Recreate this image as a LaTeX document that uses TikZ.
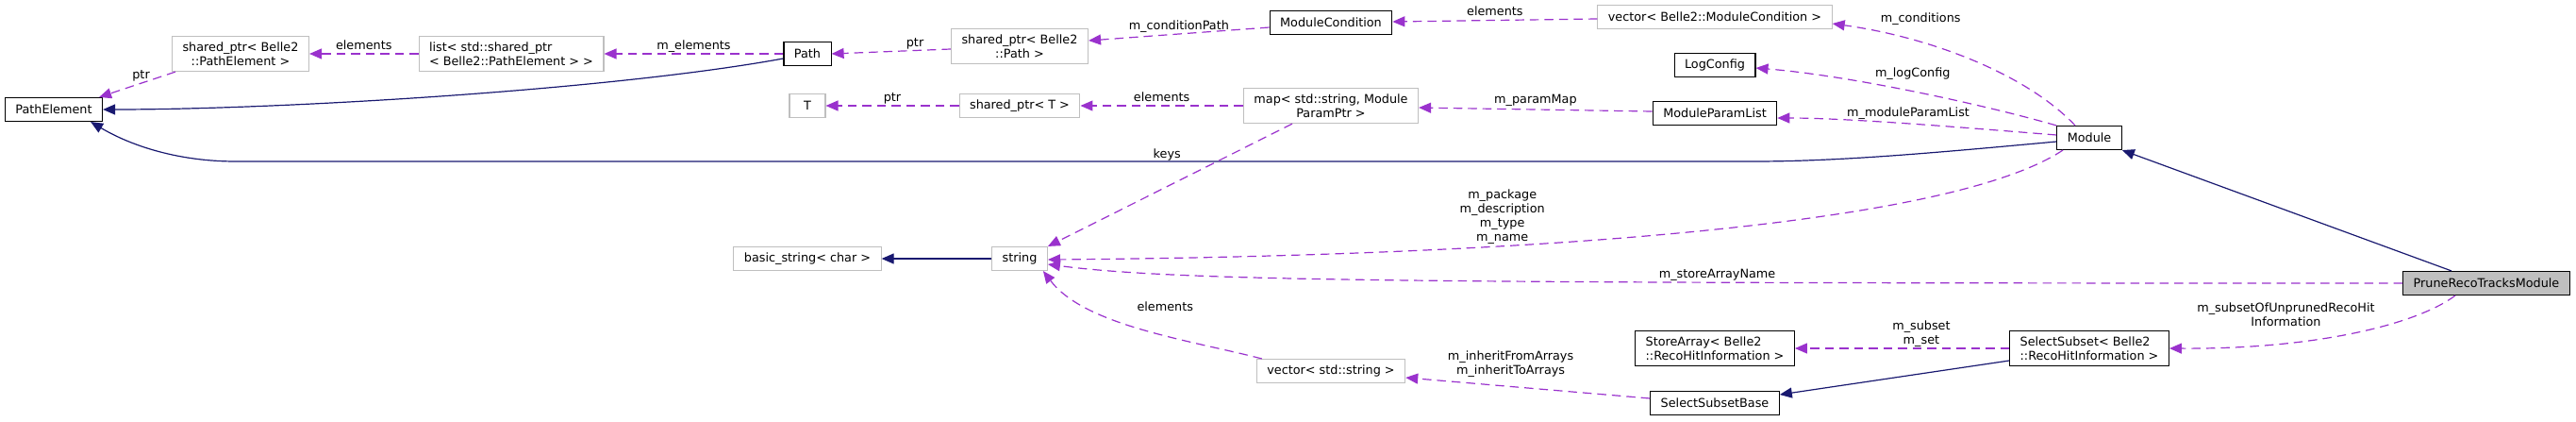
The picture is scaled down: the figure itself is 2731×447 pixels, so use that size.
\documentclass[tikz,border=0pt]{standalone}
\usepackage{fontspec}
\setmainfont{DejaVu Sans}
\usetikzlibrary{arrows.meta}
\definecolor{orchid}{HTML}{9A32CD}
\definecolor{navy}{HTML}{191970}
\definecolor{grey75}{HTML}{BFBFBF}
\newcommand{\dfont}{\fontsize{12.8}{15}\selectfont}
\begin{document}
\begin{tikzpicture}[x = 1pt, y = -1pt, font = \dfont,
	cls/.style = {draw, line width = 1.1pt, inner xsep = 11pt, inner ysep = 6.1pt, minimum height = 25pt, align = center},
	ext/.style = {cls, draw = grey75},
	use/.style = {draw = orchid, line width = 1.2pt, dash pattern = on 9.5pt off 6pt, -{Triangle[length = 13pt, width = 11pt]}},
	inh/.style = {draw = navy, line width = 1.2pt, -{Triangle[length = 13pt, width = 11pt]}},
	lbl/.style = {text = black, inner sep = 1pt, align = center}]
	\useasboundingbox (0,0) rectangle (2731,447);
	% classes
	\node[cls] (pe) at (57,116) {PathElement};
	\node[ext] (spe) at (255,57) {shared\_ptr< Belle2\\::PathElement >};
	\node[ext, align = left] (lst) at (542,57) {list< std::shared\_ptr\\< Belle2::PathElement > >};
	\node[cls] (path) at (856,57) {Path};
	\node[ext] (spp) at (1081,49) {shared\_ptr< Belle2\\::Path >};
	\node[cls] (mcond) at (1411,24) {ModuleCondition};
	\node[ext] (vmc) at (1818,18) {vector< Belle2::ModuleCondition >};
	\node[cls] (logc) at (1818,69) {LogConfig};
	\node[ext, minimum width = 38pt] (t) at (856,112) {T};
	\node[ext] (spt) at (1081,112) {shared\_ptr< T >};
	\node[ext] (map) at (1411,112) {map< std::string, Module\\ParamPtr >};
	\node[cls] (mpl) at (1818,120) {ModuleParamList};
	\node[cls] (mod) at (2215,146) {Module};
	\node[ext] (bstr) at (856,274) {basic\_string< char >};
	\node[ext] (str) at (1081,274) {string};
	\node[ext] (vstr) at (1411,393) {vector< std::string >};
	\node[cls, align = left] (sa) at (1818,369) {StoreArray< Belle2\\::RecoHitInformation >};
	\node[cls] (ssb) at (1818,427) {SelectSubsetBase};
	\node[cls, align = left] (ss) at (2215,369) {SelectSubset< Belle2\\::RecoHitInformation >};
	\node[cls, fill = grey75] (prune) at (2636,300) {PruneRecoTracksModule};
	% inheritance
	\draw[inh] ([yshift=-5pt]path.west) .. controls (650,95) and (300,116) .. (pe.east);
	\draw[inh] ([yshift=-4pt]mod.west) .. controls (2050,162) and (1950,171) .. (1859,171) -- (250,171) .. controls (190,171) and (140,155) .. ([xshift=-13pt]pe.south east);
	\draw[inh] ([xshift=-37pt]prune.north) -- (mod.south east);
	\draw[inh] (str.west) -- (bstr.east);
	\draw[inh] ([yshift=-13pt]ss.west) -- ([yshift=9pt]ssb.east);
	% members
	\draw[use] (lst.west) -- node[lbl, above=3pt] {elements} (spe.east);
	\draw[use] (path.west) -- node[lbl, above] {m\_elements} (lst.east);
	\draw[use] ([xshift=4pt]spe.south west) -- node[lbl, pos=.45, above] {ptr} ([xshift=-4pt]pe.north east);
	\draw[use] ([yshift=-3pt]spp.west) -- node[lbl, pos=.3, above] {ptr} (path.east);
	\draw[use] ([yshift=-5pt]mcond.west) -- node[lbl, above] {m\_conditionPath} ([yshift=6pt]spp.east);
	\draw[use] ([yshift=-2pt]vmc.west) -- node[lbl, above=3pt] {elements} ([yshift=1pt]mcond.east);
	\draw[use] ([xshift=-15pt]mod.north) .. controls (2150,80) and (2050,40) .. ([yshift=-7pt]vmc.east) node[lbl, pos=.7, above=17pt] {m\_conditions};
	\draw[use] (mod.north west) .. controls (2100,110) and (1960,80) .. ([yshift=-3pt]logc.east) node[lbl, pos=.5, above=11pt] {m\_logConfig};
	\draw[use] ([yshift=3pt]mod.west) .. controls (2080,135) and (1960,125) .. ([yshift=-5pt]mpl.east) node[lbl, pos=.5, above=3pt] {m\_moduleParamList};
	\draw[use] ([yshift=2pt]mpl.west) -- node[lbl, above=2pt] {m\_paramMap} ([yshift=-2pt]map.east);
	\draw[use] (map.west) -- node[lbl, above=3pt] {elements} (spt.east);
	\draw[use] (spt.west) -- node[lbl, above] {ptr} (t.east);
	\draw[use] ([xshift=-41pt]map.south) -- node[lbl, pos=.25, xshift=-68pt] {keys} (str.north east);
	\draw[use] ([xshift=-28pt]mod.south) .. controls (2050,250) and (1500,272) .. ([yshift=-1pt]str.east) node[lbl, pos=.62, above] {m\_package\\m\_description\\m\_type\\m\_name};
	\draw[use] (prune.west) .. controls (1500,300) and (1250,298) .. ([yshift=-6pt]str.east) node[lbl, pos=.29, above] {m\_storeArrayName}; %long one
	\draw[use] ([xshift=6pt]vstr.north west) .. controls (1260,360) and (1150,345) .. ([xshift=-5pt]str.south east) node[lbl, pos=.4, above=24pt] {elements};
	\draw[use] ([yshift=5pt]ssb.west) -- node[lbl, pos=.57, above=8pt] {m\_inheritFromArrays\\m\_inheritToArrays} ([yshift=-7pt]vstr.east);
	\draw[use] (ss.west) -- node[lbl, pos=.41, above] {m\_subset\\m\_set} (sa.east);
	\draw[use] ([xshift=-33pt]prune.south) .. controls (2560,345) and (2450,370) .. (ss.east) node[lbl, pos=.7, above=16pt] {m\_subsetOfUnprunedRecoHit\\Information};
\end{tikzpicture}
\end{document}
